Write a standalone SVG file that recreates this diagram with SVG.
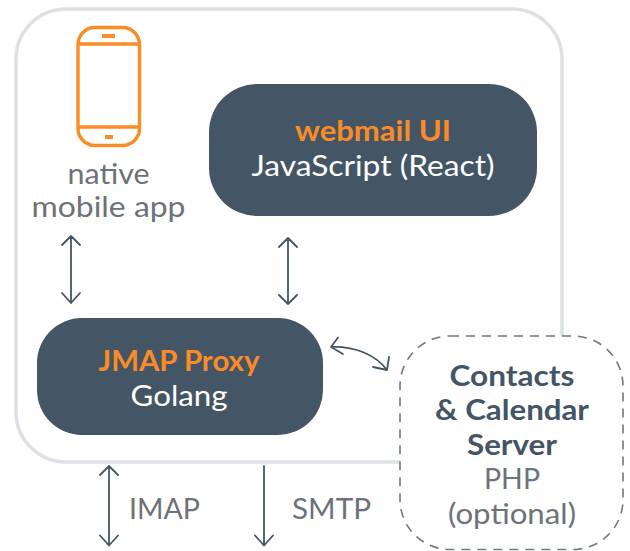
<svg xmlns="http://www.w3.org/2000/svg" width="630" height="551" viewBox="0 0 630 551">
<style>
text{font-family:"Lato","Open Sans","Liberation Sans",sans-serif;text-anchor:middle;font-size:28px;fill:#6d7278}
.b{font-weight:700}
.o{fill:#fa8c28}
.w{fill:#fff}
.d{fill:#445665}
.box{fill:#445665}
.c{fill:none;stroke:#445665;stroke-width:1.8;stroke-linecap:round;stroke-linejoin:round}
.p{fill:none;stroke:#fa8c28;stroke-width:3.4}
</style>
<rect width="630" height="551" fill="#fff"/>
<g id="container"><path d="M562 336V59A50 50 0 0 0 512 9H66A50 50 0 0 0 16 59V412A50 50 0 0 0 66 462H400" fill="none" stroke="#dde1e5" stroke-width="3.5"/></g>
<g id="mobile-app">
<rect class="p" x="78" y="27.500" width="61.500" height="118" rx="17"/>
<path class="p" d="M78 44H139.500M78 127H139.500"/>
<rect x="102" y="34" width="13" height="4" fill="#fa8c28"/>
<rect x="105" y="135" width="8" height="4" fill="#fa8c28"/>
<text x="108.500" y="184" textLength="82" lengthAdjust="spacingAndGlyphs">native</text>
<text x="108.500" y="217" textLength="154" lengthAdjust="spacingAndGlyphs">mobile app</text>
</g>
<g id="webmail-ui">
<rect class="box" x="209" y="84" width="328" height="132" rx="48"/>
<text class="b o" x="373" y="141" textLength="156" lengthAdjust="spacingAndGlyphs">webmail UI</text>
<text class="w" x="373" y="176" textLength="243" lengthAdjust="spacingAndGlyphs">JavaScript (React)</text>
</g>
<g id="jmap-proxy">
<rect class="box" x="37" y="318" width="286" height="117" rx="45"/>
<text class="b o" x="179" y="371" textLength="161" lengthAdjust="spacingAndGlyphs">JMAP Proxy</text>
<text class="w" x="179" y="406" textLength="97" lengthAdjust="spacingAndGlyphs">Golang</text>
</g>
<g id="contacts-calendar-server">
<rect x="400" y="336" width="223" height="213.500" rx="50" fill="#fff" stroke="#6b7a85" stroke-width="1.6" stroke-dasharray="9 7"/>
<text class="b d" x="512" y="386" textLength="125" lengthAdjust="spacingAndGlyphs">Contacts</text>
<text class="b d" x="512" y="420" textLength="154" lengthAdjust="spacingAndGlyphs">&amp; Calendar</text>
<text class="b d" x="512" y="455" textLength="90" lengthAdjust="spacingAndGlyphs">Server</text>
<text x="512" y="489" textLength="56" lengthAdjust="spacingAndGlyphs">PHP</text>
<text x="512" y="524" textLength="128" lengthAdjust="spacingAndGlyphs">(optional)</text>
</g>
<g id="connectors">
<path class="c" d="M71 236V303M62 245L71 236L80 245M62 293L71 303L80 293"/>
<path class="c" d="M288 238V304M279 247L288 238L297 247M279 295L288 304L297 295"/>
<path class="c" d="M331 347C355 346 376 355 387 370M338 337.500L331 347L343 354M373 367L387 370L389 357"/>
<path class="c" d="M109 466V545.500M100 475L109 466L118 475M100 535.500L109 545.500L118 535.500"/>
<path class="c" d="M264 466V545.500M255 535.500L264 545.500L273 535.500"/>
</g>
<g id="protocol-labels">
<text x="164.500" y="519" textLength="71" lengthAdjust="spacingAndGlyphs">IMAP</text>
<text x="331.500" y="519" textLength="79" lengthAdjust="spacingAndGlyphs">SMTP</text>
</g>
</svg>
